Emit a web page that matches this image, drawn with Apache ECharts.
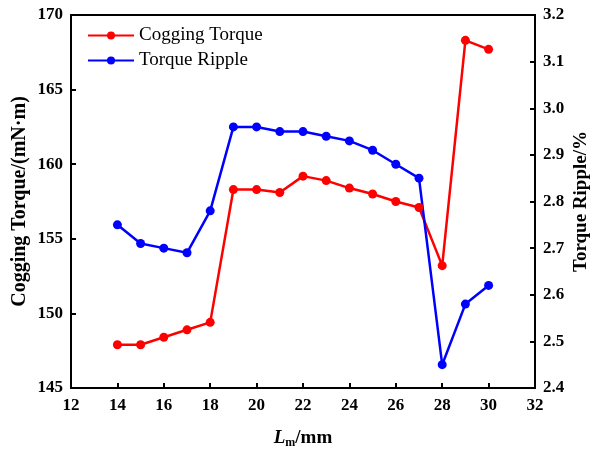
<!DOCTYPE html>
<html><head><meta charset="utf-8">
<script src="https://cdn.jsdelivr.net/npm/echarts@6/dist/echarts.min.js"></script>
<style>html,body{margin:0;padding:0;background:#fff}#c{width:597px;height:449px}</style>
</head><body><div id="c"></div>
<script>
const lengths = [14,15,16,17,18,19,20,21,22,23,24,25,26,27,28,29,30];
const coggingTorque = [147.9,147.9,148.4,148.9,149.4,158.3,158.3,158.1,159.2,158.9,158.4,158.0,157.5,157.1,153.2,168.3,167.7];
const torqueRipple = [2.75,2.71,2.70,2.69,2.78,2.96,2.96,2.95,2.95,2.94,2.93,2.91,2.88,2.85,2.45,2.58,2.62];
const F = 'Liberation Serif';
const chart = echarts.init(document.getElementById('c'));
const lbl = {color:'#000',fontFamily:F,fontWeight:'bold',fontSize:17};
const axisCommon = {
  axisLine:{show:true,lineStyle:{color:'#000',width:2}},
  axisTick:{show:true,inside:true,length:5,lineStyle:{color:'#000',width:2}},
  splitLine:{show:false}
};
chart.setOption({
  animation:false,
  grid:{left:71,right:62,top:15,bottom:61,show:true,borderColor:'#000',borderWidth:2,
    containLabel:false,outerBoundsMode:'none'},
  legend:{orient:'vertical',left:82,top:21,itemWidth:46,itemHeight:10,itemGap:6,
    textStyle:{fontFamily:F,fontSize:19,color:'#000'},
    data:['Cogging Torque','Torque Ripple']},
  xAxis:Object.assign({type:'value',min:12,max:32,interval:2,
    name:'{i|L}{s|m}{n|/mm}',nameLocation:'middle',nameGap:40,
    nameTextStyle:{rich:{
      i:{fontFamily:F,fontStyle:'italic',fontWeight:'bold',fontSize:19,color:'#000'},
      s:{fontFamily:F,fontWeight:'bold',fontSize:12,color:'#000',verticalAlign:'bottom',padding:[9,0,0,0]},
      n:{fontFamily:F,fontWeight:'bold',fontSize:19,color:'#000'}}},
    axisLabel:Object.assign({margin:9},lbl)},axisCommon),
  yAxis:[
    Object.assign({type:'value',min:145,max:170,interval:5,position:'left',
      name:'Cogging Torque/(mN·m)',nameLocation:'middle',nameGap:41,nameRotate:90,nameMoveOverlap:false,
      nameTextStyle:{fontFamily:F,fontWeight:'bold',fontSize:20,color:'#000'},
      axisLabel:Object.assign({margin:8},lbl)},axisCommon),
    Object.assign({type:'value',min:2.4,max:3.2,interval:0.1,position:'right',
      name:'Torque Ripple/%',nameLocation:'middle',nameGap:37,nameRotate:90,nameMoveOverlap:false,
      nameTextStyle:{fontFamily:F,fontWeight:'bold',fontSize:19,color:'#000'},
      axisLabel:Object.assign({margin:8,formatter:v=>v.toFixed(1)},lbl)},axisCommon)
  ],
  series:[
    {name:'Cogging Torque',type:'line',yAxisIndex:0,data:lengths.map((x,i)=>[x,coggingTorque[i]]),
      color:'#ff0000',symbol:'circle',symbolSize:9,lineStyle:{width:2.5,color:'#ff0000'},itemStyle:{color:'#ff0000'}},
    {name:'Torque Ripple',type:'line',yAxisIndex:1,data:lengths.map((x,i)=>[x,torqueRipple[i]]),
      color:'#0000ff',symbol:'circle',symbolSize:9,lineStyle:{width:2.5,color:'#0000ff'},itemStyle:{color:'#0000ff'}}
  ]
});
</script></body></html>
